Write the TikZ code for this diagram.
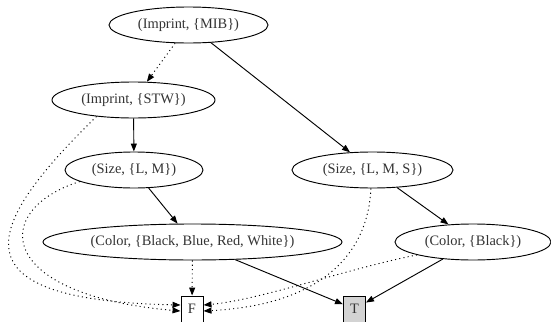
\documentclass[tikz,border=0pt]{standalone}
\usepackage{fontspec}
\setmainfont{Liberation Serif}
\usetikzlibrary{arrows.meta, shapes.geometric}
\definecolor{sinkgray}{HTML}{D3D3D3}
\definecolor{textgray}{HTML}{333333}

\begin{document}
\begin{tikzpicture}[
    x=0.75pt, y=-0.75pt,
    every node/.style={font=\fontsize{10.8}{13}\selectfont, text=textgray},
    varnode/.style={ellipse, draw, line width=0.7pt, inner sep=0pt, minimum height=27pt},
    sinknode/.style={rectangle, draw, line width=0.7pt, inner sep=0pt, minimum width=16.5pt, minimum height=19.5pt},
    hiedge/.style={-{Triangle[length=6pt, width=4.5pt]}, line width=0.7pt},
    loedge/.style={hiedge, dash pattern=on 0.8pt off 2.4pt},
]
\useasboundingbox (0,0) rectangle (551,322);
% variables
\node[varnode, minimum width=119.25pt] (mib) at (188.5,25) {(Imprint, \{MIB\})};
\node[varnode, minimum width=122.25pt] (stw) at (133.5,100) {(Imprint, \{STW\})};
\node[varnode, minimum width=103.5pt] (lm) at (134,170) {(Size, \{L, M\})};
\node[varnode, minimum width=120.75pt] (lms) at (372.5,170) {(Size, \{L, M, S\})};
\node[varnode, minimum width=224.25pt] (bbrw) at (192.5,242) {(Color, \{Black, Blue, Red, White\})};
\node[varnode, minimum width=117pt] (black) at (473,242) {(Color, \{Black\})};
% terminals
\node[sinknode] (f) at (192,309) {F};
\node[sinknode, fill=sinkgray] (t) at (354.5,309) {T};
% high edges
\draw[hiedge] (mib) -- (lms);
\draw[hiedge] (stw) -- (lm);
\draw[hiedge] (lm) -- (bbrw);
\draw[hiedge] (lms) -- (black);
\draw[hiedge] (bbrw) -- (t);
\draw[hiedge] (black) -- (t);
% low edges
\draw[loedge] (mib) -- (stw);
\draw[loedge] (bbrw) -- (f);
\draw[loedge] (stw.204) .. controls (-20,230) and (-45,300) .. ([yshift=3pt]f.west);
\draw[loedge] (lm.192) .. controls (-10,210) and (-5,295) .. ([yshift=-1.5pt]f.west);
\draw[loedge] (lms.265) .. controls (368,255) and (320,305) .. ([yshift=-1.5pt]f.east);
\draw[loedge] (black.193) .. controls (350,268) and (260,300) .. ([yshift=3pt]f.east);
\end{tikzpicture}
\end{document}
